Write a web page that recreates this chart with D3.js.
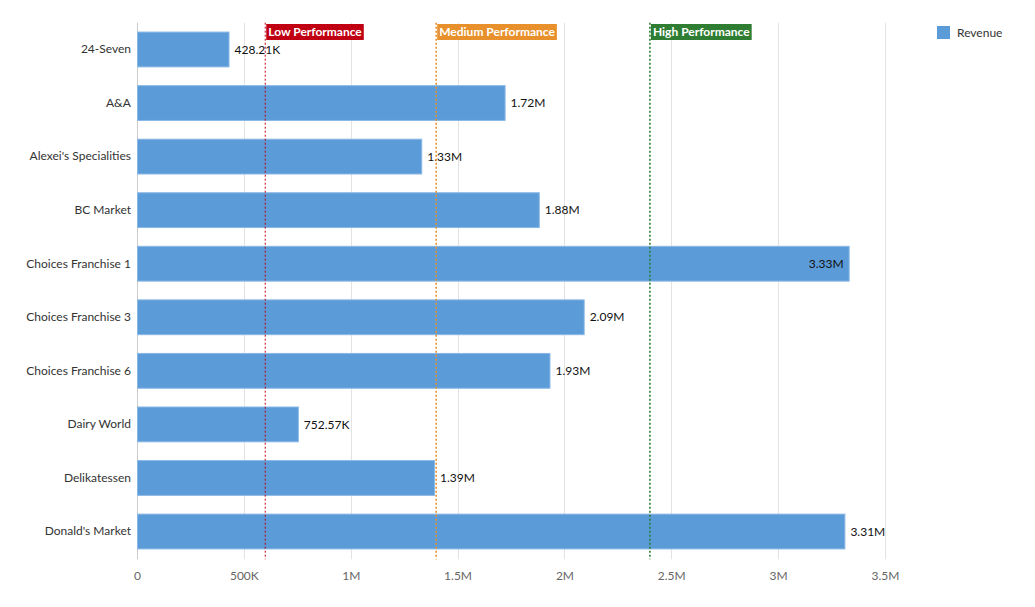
<!DOCTYPE html>
<html>
<head>
<meta charset="utf-8">
<script src="https://cdn.jsdelivr.net/npm/d3@7"></script>
<style>
  html, body { margin: 0; padding: 0; background: #fff; }
  svg { display: block; font-family: Lato, "Open Sans", sans-serif; }
</style>
</head>
<body>
<svg id="chart" width="1035" height="607"></svg>
<script>
const categories = ["24-Seven", "A&A", "Alexei's Specialities", "BC Market", "Choices Franchise 1",
  "Choices Franchise 3", "Choices Franchise 6", "Dairy World", "Delikatessen", "Donald's Market"];
const revenue = [428210, 1720000, 1330000, 1880000, 3330000, 2090000, 1930000, 752570, 1390000, 3310000];
const xTicks = [0, 500000, 1000000, 1500000, 2000000, 2500000, 3000000, 3500000];
const xTickLabels = ["0", "500K", "1M", "1.5M", "2M", "2.5M", "3M", "3.5M"];
const refNames = ["Low Performance", "Medium Performance", "High Performance"];
const refValues = [600000, 1400000, 2400000];
const refColors = ["#c00012", "#e8912c", "#2e7d32"];
const seriesName = "Revenue";

const svg = d3.select("#chart");
const plotLeft = 137, plotRight = 885, plotTop = 22.7, plotBottom = 558.3;

const x = d3.scaleLinear().domain([0, 3500000]).range([plotLeft, plotRight]);
const y = d3.scaleBand().domain(categories).range([plotTop, plotBottom]).paddingInner(0.35).paddingOuter(0.175);

const fmt = v => v >= 1e6 ? (v / 1e6).toFixed(2) + "M" : (v / 1e3).toFixed(2) + "K";

// gridlines
svg.append("g").selectAll("line").data(xTicks).join("line")
  .attr("x1", d => Math.round(x(d)) + 0.5).attr("x2", d => Math.round(x(d)) + 0.5)
  .attr("y1", plotTop).attr("y2", plotBottom + 1)
  .attr("stroke", d => d === 0 ? "#ccc" : "#e3e3e3").attr("stroke-width", 1);

// x axis labels
const xAxis = d3.axisBottom(x).tickValues(xTicks).tickFormat((d, i) => xTickLabels[i]).tickSize(0).tickPadding(0);
const gx = svg.append("g").attr("transform", `translate(0,${plotBottom + 13})`).call(xAxis);
gx.select(".domain").remove();
gx.selectAll("text").attr("fill", "#666").attr("font-size", 12).attr("font-family", "Lato, sans-serif");

// y axis labels
const yAxis = d3.axisLeft(y).tickSize(0).tickPadding(0);
const gy = svg.append("g").attr("transform", `translate(${plotLeft - 6},0)`).call(yAxis);
gy.select(".domain").remove();
gy.selectAll("text").attr("fill", "#333").attr("font-size", 12).attr("font-family", "Lato, sans-serif");

// bars
svg.append("g").selectAll("rect").data(categories).join("rect")
  .attr("x", x(0) + 0.5)
  .attr("y", d => y(d))
  .attr("width", (d, i) => x(revenue[i]) - x(0))
  .attr("height", y.bandwidth())
  .attr("fill", "#5b9bd8")
  .attr("stroke", "#8ab8e6").attr("stroke-width", 1);

// value labels
svg.append("g").selectAll("text").data(categories).join("text")
  .attr("y", d => y(d) + y.bandwidth() / 2)
  .attr("dy", "0.35em")
  .attr("font-size", 12)
  .attr("fill", "#111")
  .text((d, i) => fmt(revenue[i]))
  .each(function(d, i) {
    const v = revenue[i];
    const w = this.getComputedTextLength();
    const inside = x(v) + 6 + w > plotRight + 2;
    d3.select(this)
      .attr("x", inside ? x(v) - 5 : x(v) + 6)
      .attr("text-anchor", inside ? "end" : "start");
  });

// reference lines
const refG = svg.append("g");
refValues.forEach((v, i) => {
  refG.append("line")
    .attr("x1", x(v)).attr("x2", x(v))
    .attr("y1", plotTop).attr("y2", plotBottom + 1)
    .attr("stroke", refColors[i])
    .attr("stroke-width", i === 0 ? 1 : 1.6)
    .attr("stroke-dasharray", "2,2");
  const t = refG.append("text")
    .attr("x", x(v) + 3).attr("y", 32)
    .attr("dy", "0.35em")
    .attr("font-size", 12).attr("font-weight", "bold")
    .attr("fill", "#fff")
    .text(refNames[i]);
  const w = t.node().getComputedTextLength();
  refG.insert("rect", () => t.node())
    .attr("x", x(v) + 1).attr("y", 24)
    .attr("width", w + 4).attr("height", 16)
    .attr("fill", refColors[i]);
});

// legend
const lg = svg.append("g").attr("transform", "translate(937,26)");
lg.append("rect").attr("width", 13).attr("height", 13).attr("fill", "#5b9bd8");
lg.append("text").attr("x", 20).attr("y", 6.5).attr("dy", "0.35em")
  .attr("font-size", 12).attr("fill", "#333").text(seriesName);
</script>
</body>
</html>
